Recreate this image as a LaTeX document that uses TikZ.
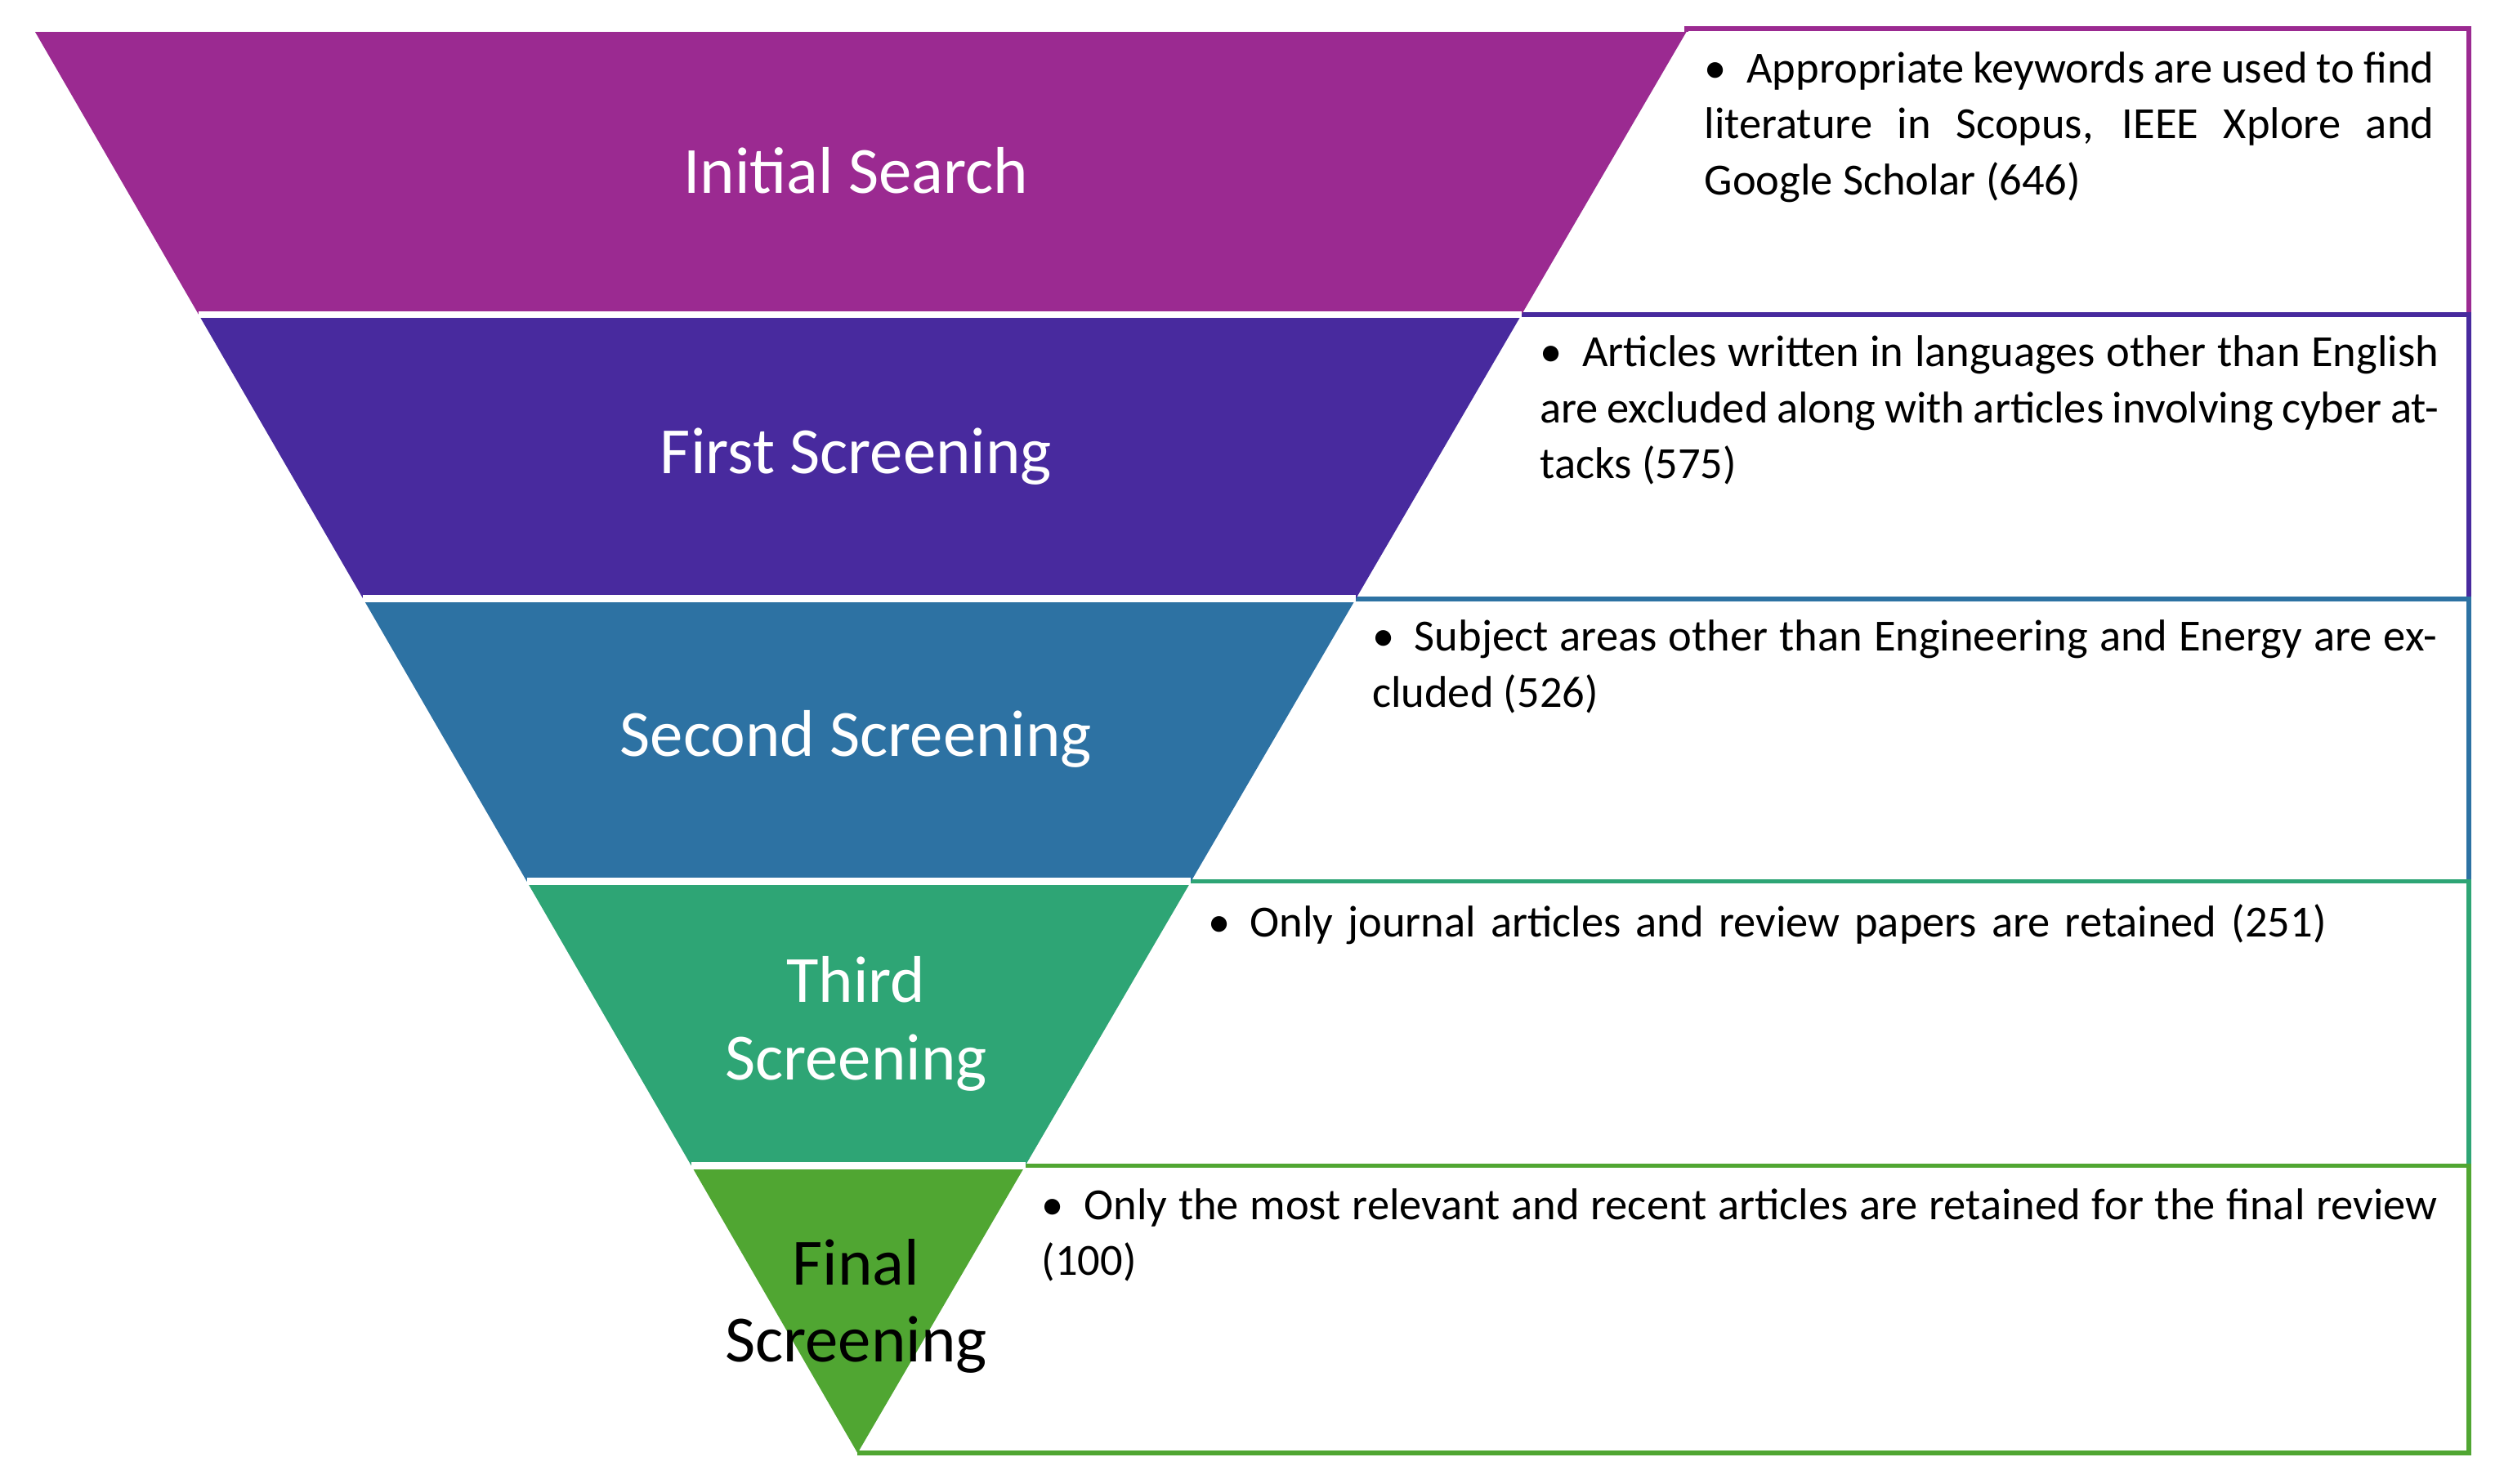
\documentclass[tikz,border=0pt]{standalone}
\usepackage{fontspec}
\setmainfont{Carlito}
\definecolor{cInit}{RGB}{155,42,145}
\definecolor{cFirst}{RGB}{72,42,158}
\definecolor{cSecond}{RGB}{45,114,163}
\definecolor{cThird}{RGB}{46,165,117}
\definecolor{cFinal}{RGB}{80,166,50}
\tikzset{
  band/.style={draw=white, line width=2.5pt, line join=miter},
  box/.style={line width=1.6pt},
  stage/.style={align=center, font=\fontsize{23}{27}\selectfont, text=white},
  note/.style={anchor=north west, align=justify, inner sep=0pt, font=\fontsize{15.5}{19.5}\selectfont}
}
\newcommand{\bulletnote}[1]{\hangindent=0.95em\hangafter=1\noindent\makebox[0.95em][l]{\textbullet}#1}
\begin{document}
\begin{tikzpicture}[x=0.01954cm, y=-0.01954cm]
\useasboundingbox (0,0) rectangle (1568,929);
% funnel corners
\coordinate (l0) at (22,20);    \coordinate (r0) at (1056,20);
\coordinate (l1) at (124.4,197); \coordinate (r1) at (952.8,197);
\coordinate (l2) at (227.4,375); \coordinate (r2) at (849,375);
\coordinate (l3) at (329.9,552); \coordinate (r3) at (745.8,552);
\coordinate (l4) at (432.9,730); \coordinate (r4) at (642,730);
\coordinate (apex) at (537,910);
% note boxes
\draw[box, draw=cInit]   (r0) -- (1056,18) -- (1546,18) -- (1546,197) -- (r1);
\draw[box, draw=cFirst]  (r1) -- (1546,197) -- (1546,375) -- (r2);
\draw[box, draw=cSecond] (r2) -- (1546,375) -- (1546,552) -- (r3);
\draw[box, draw=cThird]  (r3) -- (1546,552) -- (1546,730) -- (r4);
\draw[box, draw=cFinal]  (r4) -- (1546,730) -- (1546,910) -- (apex);
% funnel bands
\fill[cInit]   (l0) -- (r0) -- (r1) -- (l1) -- cycle;
\fill[cFirst]  (l1) -- (r1) -- (r2) -- (l2) -- cycle;
\fill[cSecond] (l2) -- (r2) -- (r3) -- (l3) -- cycle;
\fill[cThird]  (l3) -- (r3) -- (r4) -- (l4) -- cycle;
\fill[cFinal]  (l4) -- (r4) -- (apex) -- cycle;
\draw[band] (l1) -- (r1) (l2) -- (r2) (l3) -- (r3) (l4) -- (r4);
% stage labels
\node[stage] (init)   at (536,107) {Initial Search};
\node[stage] (first)  at (536,286) {First Screening};
\node[stage] (second) at (536,463) {Second Screening};
\node[stage] (third)  at (536,641) {Third\\Screening};
\node[stage, text=black] (final) at (536,818) {Final\\Screening};
% notes
\node[note, text width=466\pgflinewidth] (n1) at (1067,32) {};
\node[note, text width=8.93cm] (initnote) at (1067,32)
  {\bulletnote{Appropriate keywords are used to find literature in Scopus, IEEE Xplore and Google Scholar (646)}};
\node[note, text width=11.0cm] (firstnote) at (964,210)
  {\bulletnote{Articles written in languages other than English are excluded along with articles involving cyber attacks (575)}};
\node[note, text width=13.03cm] (secondnote) at (859,388)
  {\bulletnote{Subject areas other than Engineering and Energy are excluded (526)}};
\node[note, text width=15.05cm, align=left] (thirdnote) at (756,566)
  {\bulletnote{Only journal articles and review papers are retained (251)}};
\node[note, text width=17.08cm] (finalnote) at (652,744)
  {\bulletnote{Only the most relevant and recent articles are retained for the final review (100)}};
\end{tikzpicture}
\end{document}
